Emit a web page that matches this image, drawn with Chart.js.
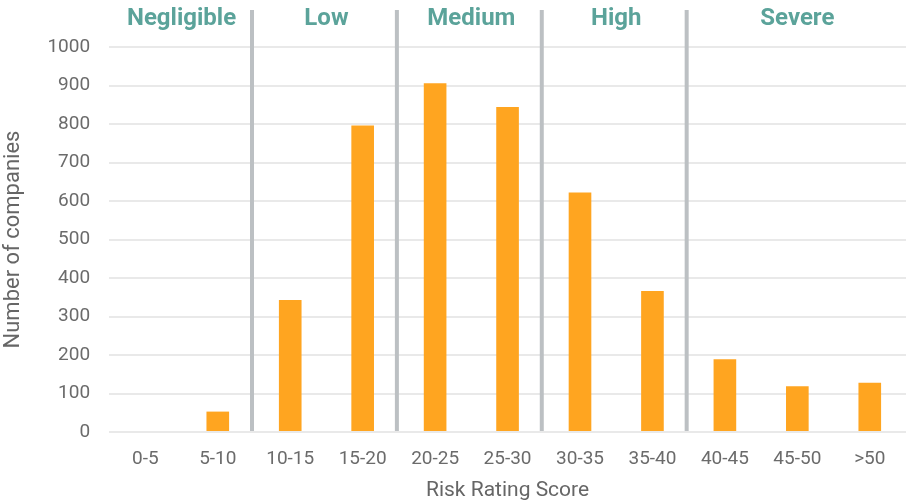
<!DOCTYPE html>
<html>
<head>
<meta charset="utf-8">
<title>Risk Rating Score distribution</title>
<script src="https://cdn.jsdelivr.net/npm/chart.js@4.4.1/dist/chart.umd.min.js"></script>
<style>
  html, body { margin: 0; padding: 0; background: #ffffff; }
  #wrap { width: 910px; height: 503px; position: relative; }
</style>
</head>
<body>
<div id="wrap"><canvas id="chart" width="910" height="503"></canvas></div>
<script>
// Score buckets and the number of companies in each
const categories = ['0-5', '5-10', '10-15', '15-20', '20-25', '25-30', '30-35', '35-40', '40-45', '45-50', '>50'];
const companies = [0, 53, 343, 796, 906, 844, 622, 366, 189, 119, 128];

// Risk bands: name and the index of the first bucket in each band
const bandNames = ['Negligible', 'Low', 'Medium', 'High', 'Severe'];
const bandStarts = [0, 2, 4, 6, 8];

const yTicks = [0, 100, 200, 300, 400, 500, 600, 700, 800, 900, 1000];

const FONT = "Roboto, 'Noto Sans', Arial, sans-serif";

// Draws the grey band separators and the band names above the plot
const bandPlugin = {
  id: 'riskBands',
  beforeDatasetsDraw(chart) {
    const { ctx, chartArea, scales } = chart;
    const x = scales.x;
    ctx.save();
    ctx.strokeStyle = '#bcc0c3';
    ctx.lineWidth = 4;
    for (let b = 1; b < bandStarts.length; b++) {
      const px = (x.getPixelForValue(bandStarts[b] - 1) + x.getPixelForValue(bandStarts[b])) / 2 - 2;
      ctx.beginPath();
      ctx.moveTo(px, 10);
      ctx.lineTo(px, chartArea.bottom - 1);
      ctx.stroke();
    }
    ctx.fillStyle = '#5ba39a';
    ctx.font = "bold 24px " + FONT;
    ctx.textAlign = 'center';
    ctx.textBaseline = 'middle';
    for (let b = 0; b < bandNames.length; b++) {
      const first = bandStarts[b];
      const last = b + 1 < bandStarts.length ? bandStarts[b + 1] - 1 : categories.length - 1;
      const cx = (x.getPixelForValue(first) + x.getPixelForValue(last)) / 2;
      ctx.fillText(bandNames[b], cx, 19);
    }
    ctx.restore();
  }
};

new Chart(document.getElementById('chart'), {
  type: 'bar',
  data: {
    labels: categories,
    datasets: [{
      label: 'Number of companies',
      data: companies,
      backgroundColor: '#ffa520',
      borderWidth: 0,
      categoryPercentage: 1.0,
      barPercentage: 0.3125
    }]
  },
  options: {
    responsive: false,
    animation: false,
    layout: { padding: { top: 47, right: 4, left: 0, bottom: 0 } },
    plugins: {
      legend: { display: false },
      tooltip: { enabled: false }
    },
    scales: {
      x: {
        grid: { display: false, drawTicks: false },
        border: { display: false },
        ticks: { color: '#6b6b6b', font: { family: FONT, size: 19 }, padding: 16, maxRotation: 0 },
        title: { display: true, text: 'Risk Rating Score', color: '#666666', font: { family: FONT, size: 21 }, padding: { top: -9, bottom: 0 } }
      },
      y: {
        min: 0,
        max: 1000,
        afterBuildTicks(axis) { axis.ticks = yTicks.map(v => ({ value: v })); },
        grid: { color: '#e9e9e9', lineWidth: 2, drawTicks: false },
        border: { display: false },
        ticks: { color: '#6b6b6b', font: { family: FONT, size: 19 }, padding: 19, callback: v => String(v) },
        title: { display: true, text: 'Number of companies', color: '#666666', font: { family: FONT, size: 22 }, padding: { top: 0, bottom: 2 } }
      }
    }
  },
  plugins: [bandPlugin]
});
</script>
</body>
</html>
